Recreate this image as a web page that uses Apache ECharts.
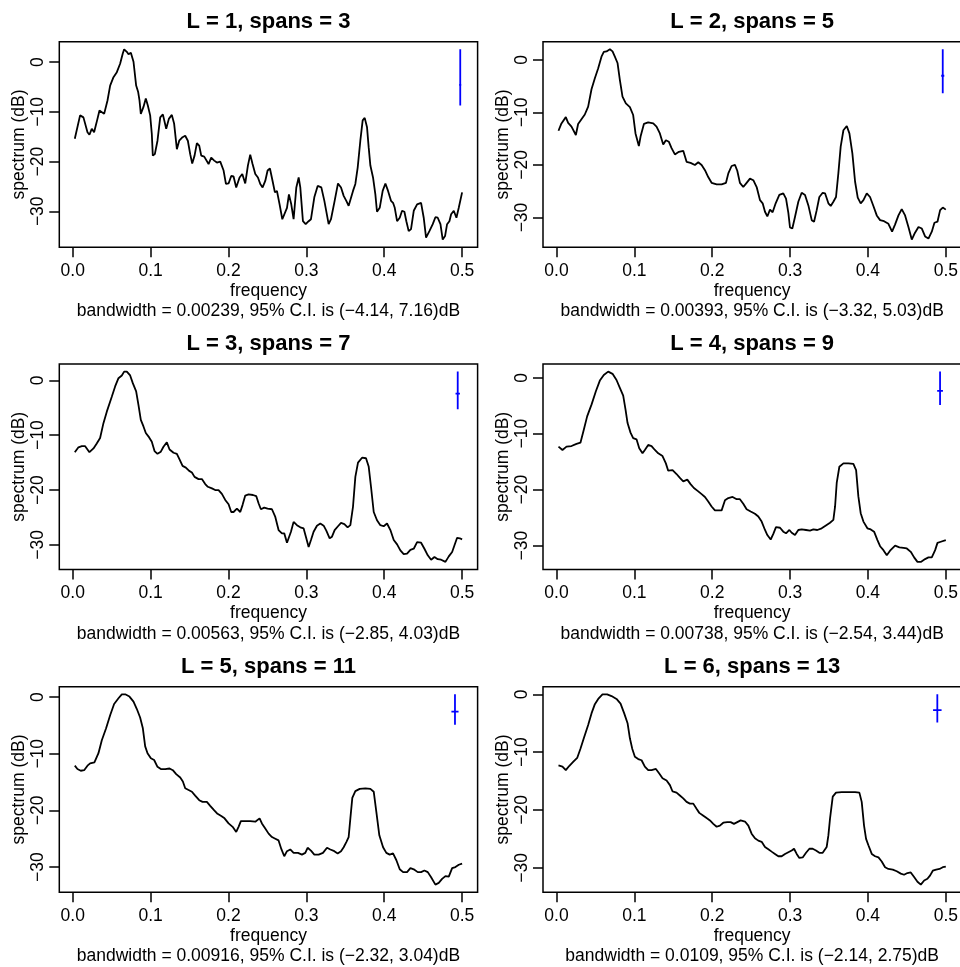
<!DOCTYPE html>
<html><head><meta charset="utf-8">
<script src="https://cdn.jsdelivr.net/npm/echarts@6/dist/echarts.min.js"></script>
<style>html,body{margin:0;padding:0;background:#fff}#c{width:960px;height:967px}</style>
</head><body><div id="c"></div>
<script>
// ---- data (frequency, spectrum in dB) ----
const freq1 = [0.0026,0.0094,0.0137,0.0159,0.0189,0.0214,0.0244,0.0274,0.0317,0.0343,0.0403,0.0446,0.0480,0.0523,0.0566,0.0608,0.0643,0.0660,0.0694,0.0716,0.0746,0.0780,0.0814,0.0840,0.0857,0.0874,0.0908,0.0938,0.0964,0.0994,0.1015,0.1028,0.1054,0.1088,0.1123,0.1157,0.1200,0.1234,0.1272,0.1302,0.1337,0.1367,0.1410,0.1444,0.1478,0.1508,0.1534,0.1564,0.1594,0.1624,0.1650,0.1688,0.1744,0.1778,0.1817,0.1851,0.1894,0.1937,0.1967,0.2001,0.2035,0.2065,0.2099,0.2142,0.2177,0.2215,0.2249,0.2279,0.2309,0.2344,0.2378,0.2408,0.2438,0.2472,0.2502,0.2532,0.2566,0.2596,0.2622,0.2656,0.2691,0.2716,0.2751,0.2776,0.2806,0.2836,0.2871,0.2901,0.2922,0.2956,0.2991,0.3029,0.3059,0.3102,0.3145,0.3192,0.3231,0.3286,0.3316,0.3363,0.3406,0.3445,0.3479,0.3513,0.3543,0.3565,0.3599,0.3629,0.3659,0.3693,0.3723,0.3749,0.3779,0.3800,0.3822,0.3856,0.3886,0.3907,0.3942,0.3980,0.4015,0.4049,0.4087,0.4113,0.4135,0.4165,0.4199,0.4229,0.4259,0.4284,0.4314,0.4344,0.4379,0.4422,0.4473,0.4507,0.4537,0.4580,0.4623,0.4657,0.4687,0.4722,0.4751,0.4781,0.4807,0.4837,0.4859,0.4893,0.4927,0.4957,0.5000];
const spec1 = [-15.4,-10.7,-11.1,-11.4,-14.1,-14.6,-13.4,-14.1,-11.4,-9.7,-10.4,-7.7,-4.7,-3.0,-2.0,-0.3,1.8,2.6,2.1,1.6,1.9,0.1,-4.7,-6.0,-7.7,-10.4,-9.0,-7.3,-8.7,-10.7,-14.4,-18.8,-18.5,-15.8,-11.1,-10.5,-13.4,-11.4,-10.6,-12.4,-17.5,-15.8,-15.1,-14.8,-15.8,-18.5,-20.4,-18.8,-16.3,-16.8,-18.8,-19.0,-20.5,-19.2,-19.8,-20.2,-20.0,-21.8,-24.5,-24.4,-22.9,-23.0,-25.2,-23.2,-22.5,-24.4,-20.8,-18.6,-20.5,-22.5,-23.2,-24.5,-25.2,-23.9,-21.8,-21.4,-23.9,-26.2,-25.9,-28.6,-31.6,-31.8,-29.3,-26.6,-28.6,-31.6,-25.2,-23.2,-25.2,-32.0,-32.6,-32.0,-31.6,-27.2,-24.9,-25.2,-27.9,-32.6,-31.6,-27.9,-24.4,-25.2,-26.9,-27.9,-28.9,-28.6,-25.9,-24.5,-21.2,-15.8,-11.7,-11.2,-13.1,-17.1,-20.8,-23.2,-26.6,-30.1,-29.3,-25.9,-24.4,-25.9,-27.9,-28.3,-29.3,-32.0,-31.3,-29.9,-30.1,-32.0,-34.0,-33.6,-29.9,-28.6,-28.3,-31.3,-35.3,-34.0,-32.6,-31.2,-31.3,-32.6,-35.7,-35.0,-32.6,-32.0,-30.6,-29.9,-31.3,-29.3,-26.2];

const freq2 = [0.0026,0.0064,0.0120,0.0150,0.0193,0.0249,0.0278,0.0321,0.0364,0.0407,0.0450,0.0493,0.0536,0.0578,0.0608,0.0643,0.0686,0.0720,0.0750,0.0784,0.0814,0.0848,0.0891,0.0943,0.0985,0.1015,0.1058,0.1080,0.1123,0.1178,0.1243,0.1285,0.1328,0.1371,0.1405,0.1444,0.1478,0.1521,0.1572,0.1628,0.1671,0.1722,0.1778,0.1821,0.1864,0.1907,0.1949,0.1992,0.2057,0.2121,0.2177,0.2207,0.2249,0.2292,0.2322,0.2356,0.2399,0.2442,0.2485,0.2528,0.2571,0.2614,0.2648,0.2678,0.2708,0.2742,0.2776,0.2815,0.2862,0.2913,0.2948,0.2978,0.2999,0.3029,0.3063,0.3106,0.3149,0.3192,0.3235,0.3278,0.3308,0.3342,0.3376,0.3419,0.3449,0.3492,0.3522,0.3556,0.3590,0.3620,0.3650,0.3685,0.3728,0.3762,0.3800,0.3835,0.3869,0.3907,0.3942,0.3985,0.4027,0.4070,0.4113,0.4156,0.4207,0.4263,0.4310,0.4349,0.4392,0.4434,0.4477,0.4520,0.4563,0.4597,0.4649,0.4692,0.4734,0.4777,0.4820,0.4854,0.4893,0.4927,0.4961,0.5000];
const spec2 = [-13.5,-12.1,-10.9,-12.0,-12.7,-14.3,-12.2,-11.3,-10.4,-8.9,-5.6,-3.5,-1.6,0.6,1.5,1.6,2.0,1.6,0.6,-0.6,-3.8,-7.0,-8.3,-9.0,-10.5,-14.0,-16.4,-14.6,-12.2,-11.9,-12.1,-12.7,-14.0,-16.1,-15.3,-15.6,-16.8,-18.0,-17.5,-17.3,-19.4,-19.6,-20.0,-19.5,-20.0,-21.0,-22.3,-23.4,-23.7,-23.7,-23.4,-21.6,-20.2,-20.0,-21.1,-23.4,-24.2,-23.4,-22.6,-22.9,-24.2,-26.7,-27.3,-28.9,-29.8,-28.5,-29.0,-27.3,-25.7,-25.4,-26.4,-29.1,-31.9,-32.1,-29.9,-27.0,-25.3,-25.7,-27.7,-30.5,-30.8,-28.6,-26.1,-25.3,-25.4,-27.3,-27.8,-27.0,-26.1,-21.6,-16.5,-13.4,-12.6,-14.0,-17.8,-23.2,-26.2,-27.3,-26.7,-25.4,-26.1,-27.8,-29.6,-30.5,-30.7,-31.2,-32.7,-31.3,-29.6,-28.4,-29.6,-31.8,-34.2,-33.1,-31.8,-32.1,-33.6,-34.0,-32.7,-31.0,-30.8,-28.6,-28.1,-28.5];

const freq3 = [0.0026,0.0073,0.0116,0.0159,0.0214,0.0266,0.0308,0.0351,0.0394,0.0437,0.0501,0.0544,0.0587,0.0630,0.0660,0.0694,0.0737,0.0771,0.0814,0.0844,0.0874,0.0908,0.0938,0.0981,0.1015,0.1050,0.1088,0.1131,0.1165,0.1208,0.1243,0.1294,0.1337,0.1371,0.1410,0.1452,0.1495,0.1530,0.1564,0.1615,0.1658,0.1701,0.1735,0.1787,0.1829,0.1872,0.1915,0.1958,0.2001,0.2035,0.2065,0.2108,0.2151,0.2181,0.2215,0.2258,0.2314,0.2356,0.2386,0.2416,0.2459,0.2502,0.2558,0.2601,0.2643,0.2686,0.2716,0.2751,0.2776,0.2802,0.2836,0.2879,0.2922,0.2965,0.2999,0.3029,0.3059,0.3093,0.3136,0.3179,0.3222,0.3256,0.3299,0.3329,0.3363,0.3406,0.3445,0.3488,0.3530,0.3565,0.3599,0.3629,0.3663,0.3715,0.3766,0.3800,0.3830,0.3865,0.3907,0.3950,0.3993,0.4036,0.4079,0.4122,0.4165,0.4207,0.4250,0.4293,0.4336,0.4379,0.4422,0.4473,0.4516,0.4559,0.4602,0.4645,0.4687,0.4730,0.4786,0.4829,0.4872,0.4901,0.4936,0.4970,0.5000];
const spec3 = [-13.1,-12.2,-12.0,-12.0,-13.1,-12.4,-11.5,-10.5,-7.8,-5.7,-3.0,-1.1,0.4,0.9,1.6,1.6,0.9,-0.5,-2.0,-4.5,-7.2,-8.4,-9.6,-10.4,-11.2,-12.9,-13.4,-13.0,-12.1,-11.3,-12.6,-13.2,-13.4,-14.4,-15.6,-15.9,-16.5,-16.8,-17.6,-18.0,-18.0,-18.9,-19.4,-19.7,-20.0,-20.0,-20.7,-21.8,-22.6,-24.0,-24.0,-23.4,-24.0,-22.7,-21.0,-20.8,-20.9,-21.1,-22.4,-23.5,-23.2,-23.4,-23.5,-24.9,-27.3,-27.9,-27.9,-29.6,-29.3,-27.6,-25.8,-26.4,-26.8,-27.0,-28.8,-30.4,-29.1,-27.6,-26.5,-26.1,-26.5,-27.4,-28.8,-28.5,-27.3,-26.6,-26.0,-26.2,-26.8,-26.4,-23.0,-17.6,-15.0,-14.1,-14.2,-15.7,-19.4,-24.0,-25.5,-26.4,-26.6,-26.1,-27.3,-29.1,-29.9,-31.0,-31.7,-31.6,-30.9,-30.7,-29.5,-29.6,-30.7,-31.9,-32.7,-32.2,-32.6,-32.7,-33.1,-32.1,-31.3,-30.1,-28.7,-28.8,-29.0];

const freq4 = [0.0026,0.0077,0.0129,0.0193,0.0257,0.0308,0.0351,0.0394,0.0450,0.0506,0.0557,0.0608,0.0664,0.0720,0.0771,0.0814,0.0857,0.0887,0.0913,0.0951,0.0985,0.1028,0.1063,0.1105,0.1135,0.1178,0.1221,0.1264,0.1307,0.1362,0.1405,0.1435,0.1491,0.1542,0.1585,0.1628,0.1680,0.1722,0.1765,0.1821,0.1864,0.1907,0.1949,0.1992,0.2035,0.2078,0.2121,0.2164,0.2207,0.2262,0.2314,0.2356,0.2399,0.2442,0.2494,0.2549,0.2592,0.2635,0.2678,0.2708,0.2751,0.2785,0.2819,0.2871,0.2913,0.2948,0.2991,0.3021,0.3063,0.3106,0.3149,0.3205,0.3256,0.3299,0.3350,0.3406,0.3470,0.3513,0.3556,0.3578,0.3599,0.3633,0.3685,0.3749,0.3813,0.3848,0.3877,0.3907,0.3942,0.3993,0.4036,0.4079,0.4122,0.4156,0.4199,0.4242,0.4284,0.4349,0.4404,0.4456,0.4499,0.4550,0.4593,0.4636,0.4679,0.4734,0.4777,0.4820,0.4863,0.4893,0.4936,0.5000];
const spec4 = [-12.3,-12.9,-12.3,-12.2,-11.8,-11.6,-9.3,-6.9,-4.8,-2.4,-0.5,0.5,1.1,0.7,-0.4,-1.8,-3.2,-5.7,-8.1,-9.8,-10.8,-11.0,-12.6,-13.5,-12.9,-12.0,-12.2,-12.9,-13.5,-14.0,-15.3,-16.6,-16.5,-17.2,-17.9,-18.5,-18.2,-19.0,-19.7,-20.3,-20.8,-21.3,-22.1,-23.0,-23.7,-23.7,-23.7,-21.9,-21.5,-21.3,-21.7,-21.7,-22.5,-23.5,-23.9,-24.3,-24.8,-25.7,-27.2,-28.1,-28.9,-27.9,-26.7,-26.8,-27.5,-27.8,-27.2,-27.7,-28.1,-27.2,-27.1,-27.2,-27.3,-27.1,-27.2,-26.9,-26.3,-25.9,-25.4,-23.0,-18.8,-15.9,-15.3,-15.3,-15.4,-16.5,-21.2,-24.2,-25.7,-26.9,-27.1,-27.5,-29.0,-30.1,-30.8,-31.7,-30.9,-30.0,-30.3,-30.4,-30.5,-31.1,-32.1,-32.9,-32.9,-32.4,-32.1,-32.1,-30.8,-29.5,-29.3,-29.0];

const freq5 = [0.0026,0.0060,0.0103,0.0146,0.0189,0.0223,0.0278,0.0330,0.0373,0.0428,0.0480,0.0531,0.0587,0.0630,0.0673,0.0728,0.0780,0.0823,0.0865,0.0900,0.0930,0.0960,0.1003,0.1045,0.1088,0.1131,0.1187,0.1243,0.1285,0.1328,0.1380,0.1414,0.1444,0.1487,0.1530,0.1572,0.1624,0.1667,0.1722,0.1765,0.1817,0.1859,0.1907,0.1949,0.2001,0.2053,0.2099,0.2129,0.2159,0.2215,0.2279,0.2344,0.2399,0.2429,0.2472,0.2515,0.2558,0.2601,0.2643,0.2678,0.2716,0.2751,0.2793,0.2836,0.2892,0.2943,0.2986,0.3016,0.3059,0.3102,0.3158,0.3213,0.3265,0.3308,0.3359,0.3402,0.3445,0.3479,0.3513,0.3543,0.3565,0.3590,0.3629,0.3685,0.3758,0.3822,0.3865,0.3899,0.3937,0.3985,0.4027,0.4070,0.4113,0.4156,0.4199,0.4242,0.4293,0.4336,0.4379,0.4430,0.4473,0.4516,0.4559,0.4602,0.4657,0.4700,0.4743,0.4786,0.4829,0.4872,0.4914,0.4957,0.5000];
const spec5 = [-12.1,-12.7,-13.0,-12.9,-12.1,-11.7,-11.5,-9.9,-7.6,-5.5,-3.2,-1.2,-0.2,0.5,0.5,0.1,-0.8,-2.1,-3.6,-5.5,-8.7,-9.9,-10.8,-11.1,-12.3,-12.7,-12.7,-12.6,-12.9,-13.6,-14.2,-14.9,-16.1,-16.4,-16.7,-17.4,-18.2,-18.5,-18.5,-19.2,-20.0,-20.6,-21.0,-21.4,-22.3,-22.9,-23.8,-22.9,-21.9,-21.9,-21.9,-22.0,-21.4,-22.3,-23.2,-24.1,-24.7,-25.0,-25.3,-26.8,-28.1,-27.2,-26.9,-27.5,-27.5,-27.8,-27.5,-26.6,-27.1,-27.8,-27.8,-27.5,-26.6,-26.9,-27.2,-27.6,-27.2,-26.5,-25.6,-24.7,-21.4,-17.8,-16.6,-16.2,-16.1,-16.2,-16.7,-20.3,-24.4,-26.5,-27.5,-27.8,-27.6,-28.8,-30.4,-30.9,-30.9,-30.2,-30.4,-30.9,-30.9,-30.6,-30.9,-31.8,-33.1,-32.8,-32.1,-31.6,-31.7,-30.2,-30.0,-29.6,-29.4];

const freq6 = [0.0026,0.0077,0.0120,0.0163,0.0214,0.0266,0.0308,0.0351,0.0407,0.0450,0.0493,0.0536,0.0591,0.0651,0.0707,0.0771,0.0823,0.0870,0.0913,0.0943,0.0973,0.1007,0.1050,0.1093,0.1135,0.1178,0.1221,0.1277,0.1320,0.1362,0.1414,0.1457,0.1491,0.1542,0.1585,0.1628,0.1671,0.1714,0.1757,0.1799,0.1834,0.1877,0.1928,0.1971,0.2014,0.2057,0.2099,0.2142,0.2194,0.2237,0.2279,0.2322,0.2365,0.2421,0.2464,0.2506,0.2549,0.2592,0.2635,0.2678,0.2721,0.2763,0.2806,0.2849,0.2892,0.2935,0.2978,0.3021,0.3051,0.3085,0.3119,0.3162,0.3205,0.3248,0.3290,0.3333,0.3376,0.3419,0.3470,0.3492,0.3513,0.3548,0.3590,0.3663,0.3749,0.3835,0.3890,0.3920,0.3950,0.3976,0.4006,0.4049,0.4092,0.4135,0.4177,0.4220,0.4263,0.4319,0.4370,0.4422,0.4464,0.4507,0.4550,0.4593,0.4636,0.4679,0.4722,0.4764,0.4799,0.4833,0.4876,0.4919,0.4961,0.5000];
const spec6 = [-12.3,-12.5,-13.1,-12.4,-11.7,-11.0,-9.4,-7.6,-5.3,-3.3,-1.7,-0.8,0.0,0.0,-0.3,-0.8,-1.6,-3.3,-5.0,-7.6,-9.4,-10.8,-11.2,-11.4,-12.5,-13.1,-13.1,-12.9,-13.7,-14.5,-14.9,-15.7,-16.8,-17.0,-17.5,-18.0,-18.6,-18.9,-18.9,-19.8,-20.5,-20.9,-21.4,-21.8,-22.4,-22.9,-22.7,-22.2,-22.1,-22.1,-22.4,-22.1,-21.8,-22.0,-22.7,-24.1,-24.9,-25.3,-25.5,-26.4,-26.8,-27.2,-27.6,-28.0,-28.0,-27.6,-27.3,-27.0,-26.7,-27.6,-28.3,-28.2,-27.4,-26.7,-26.7,-27.0,-27.4,-27.4,-26.4,-24.4,-21.5,-17.7,-17.0,-16.9,-16.9,-16.9,-17.0,-18.6,-22.7,-25.0,-26.1,-27.6,-28.0,-28.2,-28.9,-29.9,-30.2,-30.3,-30.6,-31.0,-31.2,-30.9,-30.8,-31.6,-32.4,-32.9,-32.2,-31.9,-31.3,-30.5,-30.3,-30.2,-29.9,-29.8];

const titles = ['L = 1, spans = 3','L = 2, spans = 5','L = 3, spans = 7','L = 4, spans = 9','L = 5, spans = 11','L = 6, spans = 13'];
const bandwidths = [0.00239, 0.00393, 0.00563, 0.00738, 0.00916, 0.0109];
const ciLower = [-4.14, -3.32, -2.85, -2.54, -2.32, -2.14];
const ciUpper = [7.16, 5.03, 4.03, 3.44, 3.04, 2.75];
const xTicks = [0, 0.1, 0.2, 0.3, 0.4, 0.5];
const yTicks = [0, -10, -20, -30];

// ---- layout ----
const freqs = [freq1, freq2, freq3, freq4, freq5, freq6];
const specs = [spec1, spec2, spec3, spec4, spec5, spec6];
const gridLefts = [59.3, 543];
const gridTops = [41.7, 364, 686.7];
const gridW = 418.3, gridH = 205.5;
const FONT = '"Liberation Sans", Arial, Helvetica, sans-serif';
const FS = 17.5, TFS = 22;
const minus = v => String(v).replace('-', '\u2212');

const option = { animation: false, backgroundColor: '#ffffff', grid: [], xAxis: [], yAxis: [], series: [], graphic: [] };

for (let i = 0; i < 6; i++) {
  const col = i % 2, row = Math.floor(i / 2);
  const left = gridLefts[col], top = gridTops[row];
  const fr = freqs[i], sp = specs[i];
  const n = Math.min(fr.length, sp.length);
  const fmin = Math.min(...fr), fmax = Math.max(...fr);
  const smin = Math.min(...sp), smax = Math.max(...sp);
  const fx = 0.04 * (fmax - fmin), sx = 0.04 * (smax - smin);

  option.grid.push({ left: left, top: top, width: gridW, height: gridH, show: true,
    containLabel: false, outerBoundsMode: 'none',
    borderColor: '#000', borderWidth: 1.5, backgroundColor: 'transparent' });

  option.xAxis.push({ type: 'value', gridIndex: i, min: fmin - fx, max: fmax + fx,
    name: 'frequency', nameLocation: 'middle', nameGap: 34.5,
    nameTextStyle: { fontSize: FS, fontFamily: FONT, color: '#000' },
    axisLine: { show: false, onZero: false }, splitLine: { show: false },
    axisTick: { show: true, inside: false, length: 10, customValues: xTicks, lineStyle: { color: '#000', width: 1.5 } },
    axisLabel: { show: true, customValues: xTicks, margin: 15, formatter: v => v.toFixed(1),
      fontSize: FS, fontFamily: FONT, color: '#000' } });

  option.yAxis.push({ type: 'value', gridIndex: i, min: smin - sx, max: smax + sx,
    name: 'spectrum (dB)', nameLocation: 'middle', nameGap: 31,
    nameTextStyle: { fontSize: FS, fontFamily: FONT, color: '#000' },
    axisLine: { show: false, onZero: false }, splitLine: { show: false },
    axisTick: { show: true, inside: false, length: 10, customValues: yTicks, lineStyle: { color: '#000', width: 1.5 } },
    axisLabel: { show: true, customValues: yTicks, margin: 12, rotate: 90, formatter: v => minus(v),
      fontSize: FS, fontFamily: FONT, color: '#000' } });

  const pts = [];
  for (let k = 0; k < n; k++) pts.push([fr[k], sp[k]]);
  option.series.push({ type: 'line', xAxisIndex: i, yAxisIndex: i, data: pts, showSymbol: false,
    symbol: 'none', lineStyle: { color: '#000', width: 1.8 }, silent: true });

  // confidence-interval bar (as R's plot.spec draws it)
  const bw = bandwidths[i];
  const cx = fmax - bw;
  const cy = smax - ciUpper[i];
  option.series.push({ type: 'line', xAxisIndex: i, yAxisIndex: i, symbol: 'none', silent: true,
    data: [[cx, smax], [cx, cy + ciLower[i]]], lineStyle: { color: '#0000ff', width: 1.8 } });
  option.series.push({ type: 'line', xAxisIndex: i, yAxisIndex: i, symbol: 'none', silent: true,
    data: [[cx - bw / 2, cy], [cx + bw / 2, cy]], lineStyle: { color: '#0000ff', width: 1.8 } });

  const sub = 'bandwidth = ' + bw + ', 95% C.I. is (' + minus(ciLower[i]) + ', ' + ciUpper[i].toFixed(2) + ')dB';
  option.graphic.push({ type: 'text', x: left + gridW / 2, y: top - 20, silent: true,
    style: { text: titles[i], fill: '#000', fontSize: TFS, fontWeight: 'bold', fontFamily: FONT,
      align: 'center', verticalAlign: 'middle', textAlign: 'center', textVerticalAlign: 'middle' } });
  option.graphic.push({ type: 'text', x: left + gridW / 2, y: top + gridH + 64.4, silent: true,
    style: { text: sub, fill: '#000', fontSize: FS, fontFamily: FONT,
      align: 'center', verticalAlign: 'middle', textAlign: 'center', textVerticalAlign: 'middle' } });
}

const chart = echarts.init(document.getElementById('c'), null, { renderer: 'canvas' });
chart.setOption(option);
</script>
</body></html>
